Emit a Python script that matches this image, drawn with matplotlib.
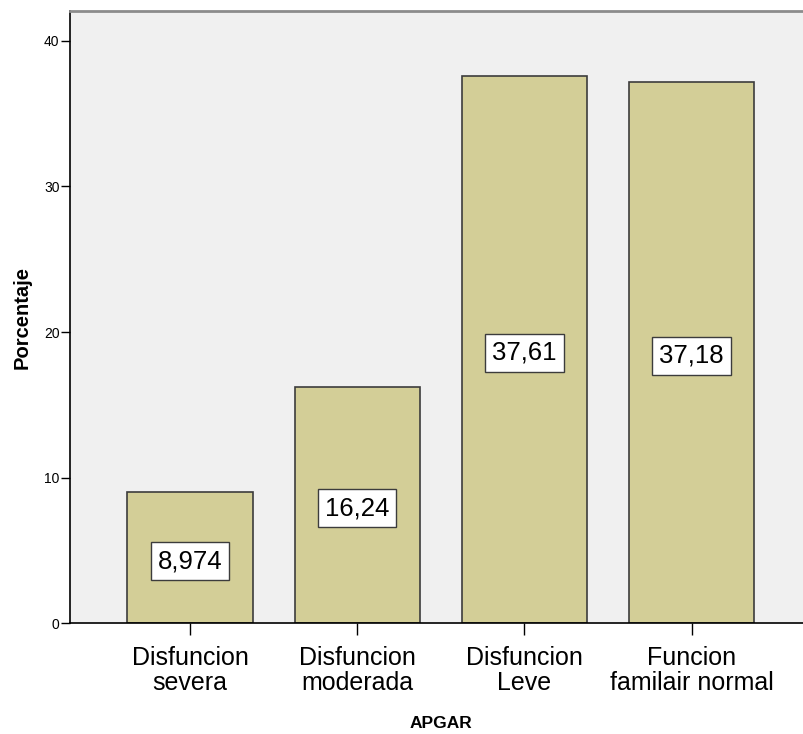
import numpy as np
import matplotlib
matplotlib.use('Agg')
from matplotlib import pyplot as plt

plt.rcParams['font.family'] = ['Liberation Sans', 'DejaVu Sans']

# datos del grafico
categorias = ['Disfuncion\nsevera', 'Disfuncion\nmoderada', 'Disfuncion\nLeve', 'Funcion\nfamilair normal']
porcentajes = [8.974, 16.24, 37.61, 37.18]
etiquetas = ['8,974', '16,24', '37,61', '37,18']
yticks = [0, 10, 20, 30, 40]

fig = plt.figure(figsize=(8.04, 7.34), dpi=100)
ax = fig.add_axes([0.0871, 0.1512, 0.9216, 0.8338])
ax.set_facecolor('#F0F0F0')

x = np.arange(len(categorias))
ax.bar(x, porcentajes, width=0.75, color='#D3CE97', edgecolor='#3C3C3C', linewidth=1.2, zorder=2)

# etiquetas con caja blanca en el centro de cada barra
for xi, v, t in zip(x, porcentajes, etiquetas):
    ax.annotate(t, (xi, v / 2), xytext=(0, -2.5), textcoords='offset points',
                ha='center', va='center', fontsize=18.5, zorder=3,
                bbox=dict(boxstyle='square,pad=0.27', fc='white', ec='#3C3C3C', lw=1))

ax.set_xlim(-0.718, 3.714)
ax.set_ylim(0, 42.06)
ax.set_xticks(x)
ax.set_xticklabels(categorias, fontsize=18, linespacing=1.05)
ax.set_yticks(yticks)
ax.set_yticklabels([str(v) for v in yticks], fontsize=10)
ax.tick_params(axis='x', length=8.5, width=1, pad=8)
ax.tick_params(axis='y', length=6.5, width=1, pad=1)

for s in ['left', 'bottom']:
    ax.spines[s].set_color('black')
    ax.spines[s].set_linewidth(1.2)
ax.spines['top'].set_color('#8C8C8C')
ax.spines['top'].set_linewidth(2)
ax.spines['right'].set_visible(False)

ax.set_ylabel('Porcentaje', fontsize=14.5, fontweight='bold', labelpad=9)
ax.set_xlabel('APGAR', fontsize=12.5, fontweight='bold', labelpad=15)

plt.savefig('out.png', dpi=100)
plt.close('all')
